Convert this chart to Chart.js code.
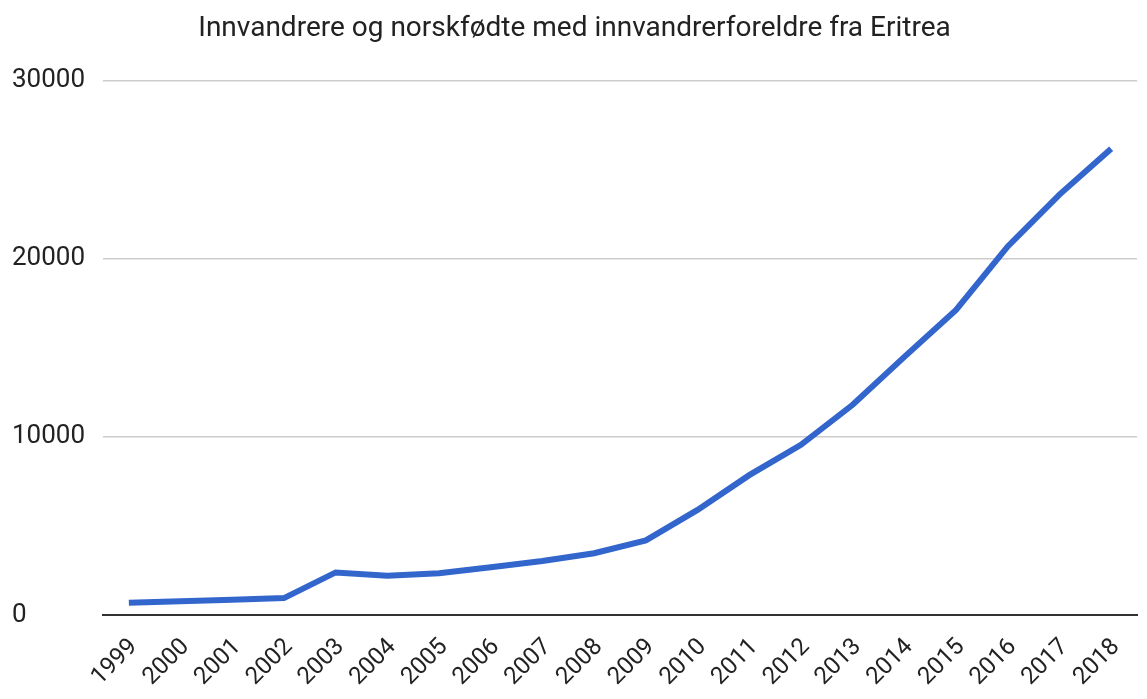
<!DOCTYPE html>
<html>
<head>
<meta charset="utf-8">
<script src="https://cdn.jsdelivr.net/npm/chart.js@4/dist/chart.umd.min.js"></script>
<style>
  html, body { margin: 0; padding: 0; background: #fff; }
  #cntr { width: 1147px; height: 699px; }
</style>
</head>
<body>
<div id="cntr">
  <canvas id="myChart" width="1147" height="699"></canvas>
</div>
<script>
// Datos
const aar = ['1999', '2000', '2001', '2002', '2003', '2004', '2005', '2006', '2007', '2008',
  '2009', '2010', '2011', '2012', '2013', '2014', '2015', '2016', '2017', '2018'];
const personer = [690, 770, 860, 950, 2390, 2200, 2340, 2680, 3030, 3470,
  4190, 5900, 7850, 9550, 11800, 14490, 17130, 20690, 23600, 26180];
const y_ticks = [0, 10000, 20000, 30000];

const tittel = 'Innvandrere og norskfødte med innvandrerforeldre fra Eritrea';

Chart.defaults.font.family = 'Roboto';
Chart.defaults.color = '#222';

const ctx = document.getElementById('myChart');
new Chart(ctx, {
  type: 'line',
  data: {
    labels: aar,
    datasets: [{
      label: 'Eritrea',
      data: personer,
      borderColor: '#3366cc',
      backgroundColor: '#3366cc',
      borderWidth: 6,
      borderCapStyle: 'butt',
      pointRadius: 0,
      tension: 0,
      fill: false
    }]
  },
  options: {
    responsive: false,
    animation: false,
    layout: { padding: { left: 12, right: 10, top: 0, bottom: 0 } },
    plugins: {
      legend: { display: false },
      tooltip: { enabled: false },
      title: {
        display: true,
        text: tittel,
        color: '#222',
        font: { size: 28, weight: 'normal' },
        padding: { top: 12, bottom: 35 }
      }
    },
    scales: {
      x: {
        offset: true,
        grid: { display: false },
        border: { display: true, color: '#333', width: 2 },
        ticks: {
          autoSkip: false,
          maxRotation: 45,
          minRotation: 45,
          font: { size: 24 },
          color: '#222',
          padding: 10,
          labelOffset: 5
        },
        afterFit: (scale) => { scale.height = 84; }
      },
      y: {
        min: 0,
        max: 30000,
        afterBuildTicks: (scale) => { scale.ticks = y_ticks.map(v => ({ value: v })); },
        grid: { color: '#cccccc', lineWidth: 1.5, drawTicks: false },
        border: { display: false },
        ticks: {
          font: { size: 26 },
          color: '#222',
          crossAlign: 'far',
          callback: (v) => String(v)
        },
        afterFit: (scale) => { scale.width = 91; }
      }
    }
  }
});
</script>
</body>
</html>
